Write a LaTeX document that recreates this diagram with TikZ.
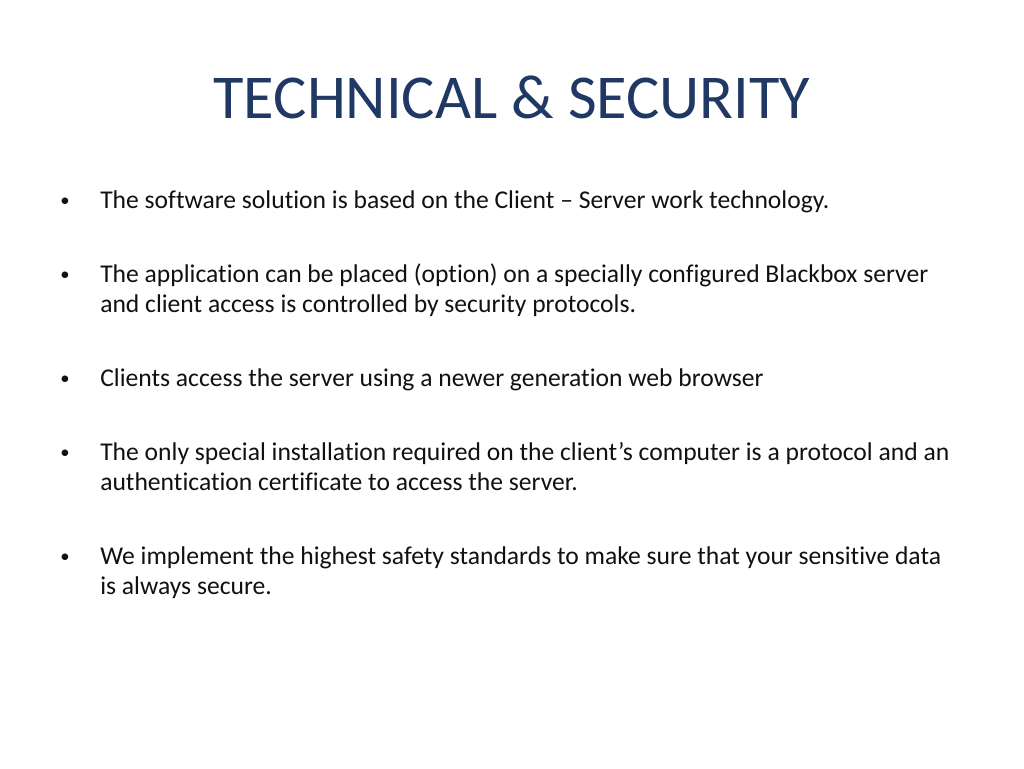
\documentclass[tikz,border=0pt]{standalone}
\usepackage{fontspec}
\setmainfont[Ligatures=NoCommon]{Carlito}
\definecolor{titleblue}{HTML}{1F3864}
\definecolor{bodytext}{HTML}{111111}
\begin{document}
\begin{tikzpicture}[x=0.75pt,y=-0.75pt,
  line/.style={anchor=base west,inner sep=0pt,text=bodytext,font=\fontsize{19.2}{23}\selectfont},
  bul/.style={anchor=base west,inner sep=0pt,text=bodytext,font=\fontsize{14}{18}\selectfont}]
\useasboundingbox[fill=white] (0,0) rectangle (1024,768);
\node[anchor=base,inner sep=0pt,text=titleblue,font=\fontsize{46.8}{50}\selectfont] (title) at (512,118) {TECHNICAL \& SECURITY};
\node[bul] (b1) at (60,206) {•};
\node[line] (l1) at (100,208) {The software solution is based on the Client – Server work technology.};
\node[bul] (b2) at (60,280) {•};
\node[line] (l2a) at (100,282) {The application can be placed (option) on a specially configured Blackbox server};
\node[line] (l2b) at (100,312) {and client access is controlled by security protocols.};
\node[bul] (b3) at (60,384) {•};
\node[line] (l3) at (100,386) {Clients access the server using a newer generation web browser};
\node[bul] (b4) at (60,458) {•};
\node[line] (l4a) at (100,460) {The only special installation required on the client’s computer is a protocol and an};
\node[line] (l4b) at (100,490) {authentication certificate to access the server.};
\node[bul] (b5) at (60,562) {•};
\node[line] (l5a) at (100,564) {We implement the highest safety standards to make sure that your sensitive data};
\node[line] (l5b) at (100,594) {is always secure.};
\end{tikzpicture}
\end{document}
